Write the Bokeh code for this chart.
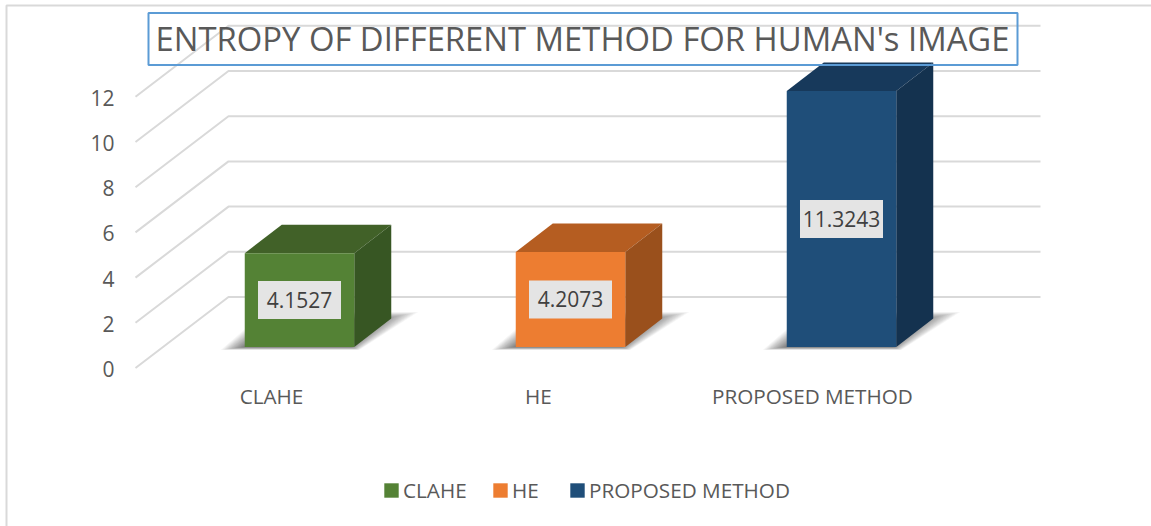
from bokeh.plotting import figure
from bokeh.models import Range1d, LinearAxis, FixedTicker, Legend, LegendItem, BoxAnnotation, Label
from bokeh.core.properties import value
from bokeh.embed import file_html
from bokeh.resources import INLINE

categories = ["CLAHE", "HE", "PROPOSED METHOD"]
entropy = [4.1527, 4.2073, 11.3243]
label_slots = [0, 0.985, 1.996]
front_colors = ["#548235", "#ED7D31", "#1F4E79"]
top_colors = ["#416128", "#B55D21", "#17395B"]
side_colors = ["#375623", "#9A501C", "#14324F"]
y_ticks = [0, 2, 4, 6, 8, 10, 12]
title_text = "ENTROPY OF DIFFERENT METHOD FOR HUMAN's IMAGE"
legend_left = [382, 491, 568]

FONT = "Open Sans"
TEXT = "#595959"
GRID = "#D9D9D9"

W, H = 1151, 526
PX_UNIT_Y = 22.6
PX_CAT = 271.0
BASE_Y, FIRST_X = 347.0, 300.0

def X(px):
    return (px - FIRST_X) / PX_CAT
def Y(py):
    return (BASE_Y - py) / PX_UNIT_Y
def DXP(px):
    return px / PX_CAT
def DYP(px):
    return px / PX_UNIT_Y
DX, DY = DXP(37), DYP(28.5)
BAR_W = 109.5 / PX_CAT

p = figure(width=W, height=H, output_backend="svg", toolbar_location=None,
           x_range=Range1d(X(1), X(W + 1)), y_range=Range1d(Y(H + 0.5), Y(0.5)),
           min_border=0, x_axis_location=None, y_axis_location=None, outline_line_color=None)
p.grid.visible = False
p.background_fill_color = "white"
p.border_fill_color = "white"

# the axes sit on the chart's floor, offset from the bars by its perspective
p.extra_y_ranges["ticks"] = Range1d((368.5 - H) / PX_UNIT_Y, 368.5 / PX_UNIT_Y)
p.extra_x_ranges["cats"] = Range1d(-271 / PX_CAT, (W - 271) / PX_CAT)
ya = LinearAxis(y_range_name="ticks", ticker=FixedTicker(ticks=y_ticks), axis_line_color=None,
                major_tick_line_color=None, minor_tick_line_color=None,
                major_label_text_font=FONT, major_label_text_font_size="21px",
                major_label_text_color=TEXT, major_label_standoff=6, fixed_location=X(127))
p.add_layout(ya, "left")
xa = LinearAxis(x_range_name="cats", ticker=FixedTicker(ticks=label_slots),
                major_label_overrides=dict(zip(label_slots, categories)),
                axis_line_color=None, major_tick_line_color=None, minor_tick_line_color=None,
                major_label_text_font=FONT, major_label_text_font_size="20.7px",
                major_label_text_color=TEXT, major_label_standoff=4, fixed_location=Y(372))
p.add_layout(xa, "below")

# outer chart border
p.line([X(7), X(7), X(W + 1)], [Y(H + 1), Y(5.5), Y(5.5)], line_color=GRID, line_width=2)

# chart walls
wall_lift = Y(297)
floor_drop = Y(368)
gx, gy = [], []
for t in y_ticks:
    gx.append([X(136), X(229), X(1041)])
    gy.append([t + floor_drop, t + wall_lift, t + wall_lift])
p.multi_line(gx, gy, line_color=GRID, line_width=2)

# soft cast shadows
LEVELS = 18
for i, v in enumerate(entropy):
    x0, x1 = i - BAR_W / 2, i + BAR_W / 2
    for k in range(LEVELS):
        f = k / (LEVELS - 1)  # 0 = outermost
        def lerp(a, b):
            return a + (b - a) * f
        xs = [x0 + DXP(lerp(-24, -1)), x1 + DXP(lerp(5, -4)),
              x1 + DXP(lerp(64, 24)), x0 + DXP(lerp(20, 40))]
        ys = [DYP(lerp(-3, 0)), DYP(lerp(-3, 0)), DYP(lerp(35, 27)), DYP(lerp(35, 27))]
        p.patch(xs, ys, fill_color="#000000", fill_alpha=0.036, line_color=None)

items = []
for i, (name, v) in enumerate(zip(categories, entropy)):
    x0, x1 = i - BAR_W / 2, i + BAR_W / 2
    p.patch([x0, x1, x1 + DX, x0 + DX], [v, v, v + DY, v + DY], fill_color=top_colors[i], line_color=None)
    p.patch([x1, x1 + DX, x1 + DX, x1], [0, DY, v + DY, v], fill_color=side_colors[i], line_color=None)
    r = p.vbar(x=[i], top=[v], bottom=[0], width=BAR_W, fill_color=front_colors[i], line_color=None)
    items.append(LegendItem(label=name, renderers=[r]))
    p.rect(x=[i], y=[v / 2], width=83 / PX_CAT, height=38 / PX_UNIT_Y, fill_color="#E4E4E4", line_color=None)
    p.text(x=[i], y=[v / 2], text=[f"{v:.4f}"], text_align="center", text_baseline="middle",
           text_color="#404040", text_font=value(FONT), text_font_size="21px")

# title, with its frame
p.add_layout(BoxAnnotation(left=X(149), right=X(1018), top=Y(13), bottom=Y(65),
                           fill_alpha=0, line_color="#5B9BD5", line_width=2, line_alpha=1))
p.add_layout(Label(x=X(583), y=Y(38.5), text=title_text, text_font=FONT, text_font_size="32.8px",
                   text_color=TEXT, text_align="center", text_baseline="middle"))

for item, left in zip(items, legend_left):
    p.add_layout(Legend(items=[item], orientation="horizontal", location=(left, 22),
                        glyph_width=18, glyph_height=18, label_standoff=3, padding=0, margin=0,
                        label_text_font=FONT, label_text_font_size="20.7px", label_text_color=TEXT,
                        border_line_color=None, background_fill_alpha=0, label_height=18), "center")

open("out.html", "w").write(file_html(p, INLINE))
